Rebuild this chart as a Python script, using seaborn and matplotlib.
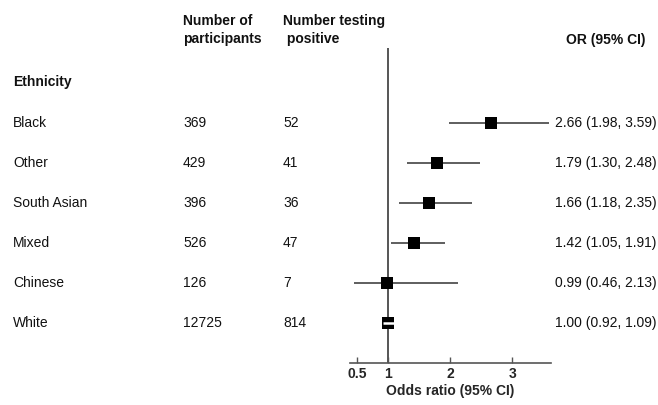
import matplotlib
matplotlib.use("Agg")
import matplotlib.pyplot as plt
import matplotlib.transforms as mtransforms
import pandas as pd
import seaborn as sns

# Data
groups = ["Black", "Other", "South Asian", "Mixed", "Chinese", "White"]
participants = [369, 429, 396, 526, 126, 12725]
positives = [52, 41, 36, 47, 7, 814]
odds_ratio = [2.66, 1.79, 1.66, 1.42, 0.99, 1.00]
ci_low = [1.98, 1.30, 1.18, 1.05, 0.46, 0.92]
ci_high = [3.59, 2.48, 2.35, 1.91, 2.13, 1.09]
x_ticks = [0.5, 1, 2, 3]

df = pd.DataFrame({"group": groups, "n": participants, "pos": positives,
                   "or": odds_ratio, "lo": ci_low, "hi": ci_high})
df["row"] = range(len(df))

sns.set_style("white")
plt.rcParams["font.family"] = ["Liberation Sans", "DejaVu Sans"]

W, H = 658, 405
fig = plt.figure(figsize=(W / 100, H / 100), dpi=100)
ax = fig.add_axes([350 / W, 1 - 363 / H, 201 / W, 315 / H])

# reference line at OR = 1
ax.axvline(1, color="#555555", lw=1.4, zorder=1)

# confidence intervals
narrow = (df["hi"] - df["lo"]) < 0.25
ax.hlines(df.loc[~narrow, "row"], df.loc[~narrow, "lo"], df.loc[~narrow, "hi"],
          color="#333333", lw=1.1, zorder=2, clip_on=False)
sns.scatterplot(data=df, x="or", y="row", marker="s", s=85, color="black",
                edgecolor="black", linewidth=0, ax=ax, zorder=3, legend=False,
                clip_on=False)
ax.hlines(df.loc[narrow, "row"], df.loc[narrow, "lo"], df.loc[narrow, "hi"],
          color="white", lw=1.8, zorder=4)

ax.set_xlim(0.39, 3.62)
ax.set_ylim(6, -1.875)
ax.set_xticks(x_ticks)
ax.set_xticklabels(["0.5", "1", "2", "3"], fontweight="bold", fontsize=10)
ax.set_yticks([])
ax.set_xlabel("Odds ratio (95% CI)", fontweight="bold", fontsize=10, labelpad=2)
ax.set_ylabel("")
for s in ["left", "top", "right"]:
    ax.spines[s].set_visible(False)
ax.spines["bottom"].set_color("#555555")
ax.spines["bottom"].set_linewidth(1.2)
ax.tick_params(axis="x", direction="in", length=4, width=1, color="#555555",
               pad=3, bottom=True)
ax.patch.set_alpha(0)

# table text
tr = mtransforms.blended_transform_factory(fig.transFigure, ax.transData)
txt = dict(fontsize=10, color="#111111", va="center", transform=tr)
for _, r in df.iterrows():
    ax.text(13 / W, r["row"], r["group"], **txt)
    ax.text(183 / W, r["row"], str(r["n"]), **txt)
    ax.text(283 / W, r["row"], str(r["pos"]), **txt)
    ax.text(555 / W, r["row"], f"{r['or']:.2f} ({r['lo']:.2f}, {r['hi']:.2f})", **txt)

hdr = dict(fontsize=10, fontweight="bold", color="#111111", va="center")
fig.text(13 / W, 1 - 82 / H, "Ethnicity", **hdr)
fig.text(183 / W, 1 - 21 / H, "Number of", **hdr)
fig.text(183 / W, 1 - 39 / H, "participants", **hdr)
fig.text(283 / W, 1 - 21 / H, "Number testing", **hdr)
fig.text(283 / W, 1 - 39 / H, " positive", **hdr)
fig.text(645 / W, 1 - 40 / H, "OR (95% CI)", ha="right", **hdr)

fig.savefig("out.png", dpi=100)
